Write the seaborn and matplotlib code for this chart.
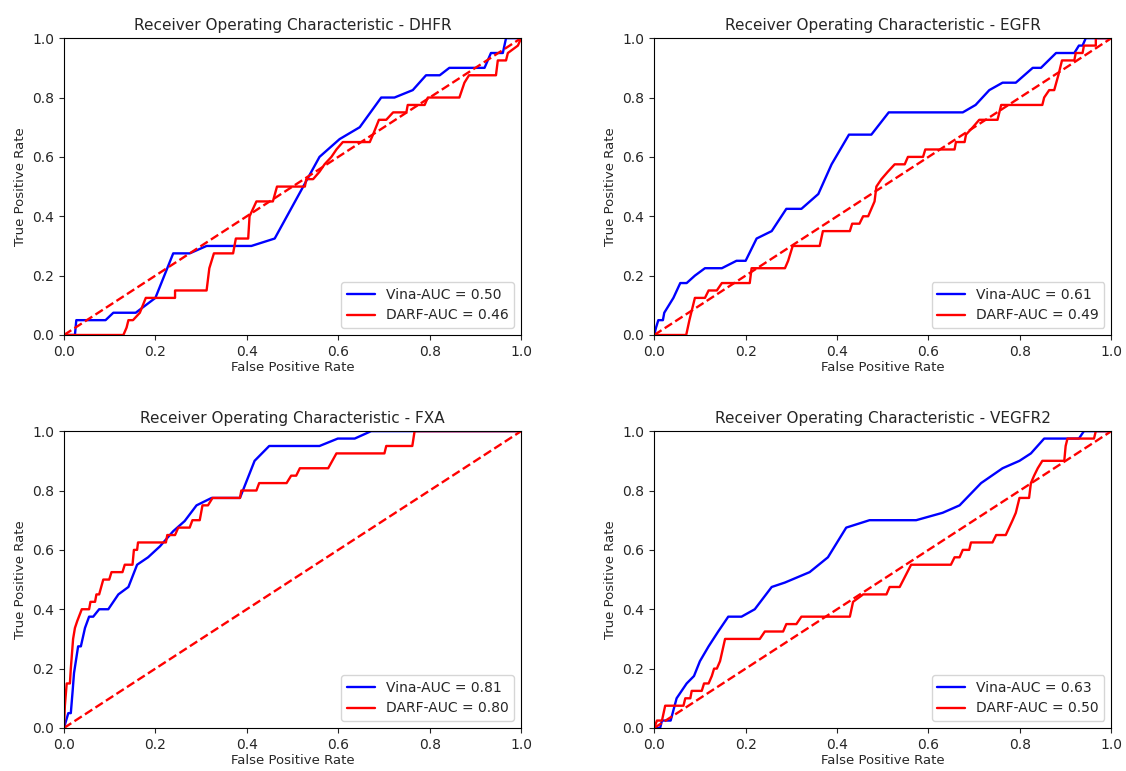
import numpy as np
import pandas as pd
import matplotlib
matplotlib.use('Agg')
import matplotlib.pyplot as plt
import seaborn as sns

sns.set_style('ticks')
plt.rcParams['font.family'] = ['DejaVu Sans']

# ---- data: (fpr, tpr) vertices ----
targets = ['DHFR', 'EGFR', 'FXA', 'VEGFR2']
vina_auc = [0.50, 0.61, 0.81, 0.63]
darf_auc = [0.46, 0.49, 0.80, 0.50]

dhfr_vina_fpr = [0, 0.024, 0.027, 0.091, 0.108, 0.157, 0.200, 0.239, 0.275, 0.312, 0.410, 0.461, 0.559,
                 0.603, 0.647, 0.694, 0.723, 0.763, 0.792, 0.822, 0.843, 0.920, 0.934, 0.960, 0.967, 1.0]
dhfr_vina_tpr = [0, 0, 0.05, 0.05, 0.075, 0.075, 0.125, 0.275, 0.275, 0.30, 0.30, 0.325, 0.60,
                 0.66, 0.70, 0.80, 0.80, 0.825, 0.875, 0.875, 0.90, 0.90, 0.95, 0.95, 1.0, 1.0]
dhfr_darf_fpr = [0, 0.13, 0.137, 0.141, 0.151, 0.166, 0.179, 0.243, 0.243, 0.312, 0.318, 0.328, 0.37,
                 0.376, 0.403, 0.406, 0.421, 0.457, 0.466, 0.527, 0.530, 0.545, 0.559, 0.570, 0.585,
                 0.596, 0.610, 0.669, 0.676, 0.689, 0.705, 0.72, 0.749, 0.752, 0.789, 0.796, 0.865,
                 0.876, 0.886, 0.945, 0.949, 0.967, 0.971, 0.993, 1.0]
dhfr_darf_tpr = [0, 0, 0.025, 0.05, 0.05, 0.075, 0.125, 0.125, 0.15, 0.15, 0.225, 0.275, 0.275,
                 0.325, 0.325, 0.40, 0.45, 0.45, 0.50, 0.50, 0.525, 0.525, 0.55, 0.575, 0.60,
                 0.625, 0.65, 0.65, 0.675, 0.725, 0.725, 0.75, 0.75, 0.775, 0.775, 0.80, 0.80,
                 0.85, 0.875, 0.875, 0.925, 0.925, 0.95, 0.975, 1.0]

egfr_vina_fpr = [0, 0.004, 0.009, 0.019, 0.022, 0.042, 0.057, 0.071, 0.089, 0.111, 0.148, 0.18, 0.2,
                 0.224, 0.257, 0.289, 0.322, 0.359, 0.388, 0.426, 0.475, 0.513, 0.675, 0.703, 0.733,
                 0.762, 0.791, 0.828, 0.846, 0.879, 0.919, 0.929, 0.937, 0.944, 1.0]
egfr_vina_tpr = [0, 0.025, 0.05, 0.05, 0.075, 0.125, 0.175, 0.175, 0.2, 0.225, 0.225, 0.25, 0.25,
                 0.325, 0.35, 0.425, 0.425, 0.475, 0.575, 0.675, 0.675, 0.75, 0.75, 0.775, 0.825,
                 0.85, 0.85, 0.90, 0.90, 0.95, 0.95, 0.975, 0.975, 1.0, 1.0]
egfr_darf_fpr = [0, 0.07, 0.077, 0.089, 0.111, 0.119, 0.137, 0.148, 0.209, 0.213, 0.286, 0.293, 0.303,
                 0.362, 0.369, 0.428, 0.433, 0.449, 0.457, 0.468, 0.482, 0.486, 0.497, 0.511, 0.526,
                 0.548, 0.555, 0.588, 0.593, 0.657, 0.66, 0.679, 0.682, 0.697, 0.711, 0.751, 0.759,
                 0.849, 0.853, 0.864, 0.875, 0.884, 0.892, 0.919, 0.922, 0.937, 0.94, 0.966, 0.966, 1.0]
egfr_darf_tpr = [0, 0, 0.05, 0.125, 0.125, 0.15, 0.15, 0.175, 0.175, 0.225, 0.225, 0.25, 0.30,
                 0.30, 0.35, 0.35, 0.375, 0.375, 0.40, 0.40, 0.45, 0.50, 0.525, 0.55, 0.575,
                 0.575, 0.60, 0.60, 0.625, 0.625, 0.65, 0.65, 0.675, 0.70, 0.725, 0.725, 0.775,
                 0.775, 0.80, 0.825, 0.825, 0.875, 0.925, 0.925, 0.95, 0.95, 0.975, 0.975, 1.0, 1.0]

fxa_vina_fpr = [0, 0.0095, 0.015, 0.019, 0.022, 0.031, 0.037, 0.046, 0.055, 0.064, 0.077, 0.097, 0.119,
                0.141, 0.160, 0.184, 0.21, 0.239, 0.264, 0.29, 0.323, 0.385, 0.417, 0.449, 0.559,
                0.599, 0.636, 0.672, 1.0]
fxa_vina_tpr = [0, 0.05, 0.05, 0.125, 0.185, 0.275, 0.275, 0.337, 0.375, 0.375, 0.40, 0.40, 0.45,
                0.475, 0.55, 0.575, 0.612, 0.663, 0.697, 0.75, 0.775, 0.775, 0.90, 0.95, 0.95,
                0.975, 0.975, 1.0, 1.0]
fxa_darf_fpr = [0, 0.002, 0.006, 0.013, 0.015, 0.02, 0.024, 0.029, 0.039, 0.055, 0.058, 0.068, 0.071,
                0.077, 0.086, 0.099, 0.104, 0.128, 0.133, 0.150, 0.153, 0.160, 0.162, 0.223, 0.226,
                0.243, 0.25, 0.275, 0.281, 0.297, 0.303, 0.315, 0.325, 0.385, 0.388, 0.421, 0.427,
                0.487, 0.497, 0.508, 0.516, 0.578, 0.596, 0.701, 0.705, 0.762, 0.767, 1.0]
fxa_darf_tpr = [0, 0.075, 0.15, 0.15, 0.20, 0.30, 0.337, 0.36, 0.40, 0.40, 0.425, 0.425, 0.45,
                0.45, 0.50, 0.50, 0.525, 0.525, 0.55, 0.55, 0.60, 0.60, 0.625, 0.625, 0.65,
                0.65, 0.675, 0.675, 0.70, 0.70, 0.75, 0.75, 0.775, 0.775, 0.80, 0.80, 0.825,
                0.825, 0.85, 0.85, 0.875, 0.875, 0.925, 0.925, 0.95, 0.95, 1.0, 1.0]

vegfr2_vina_fpr = [0, 0.013, 0.017, 0.036, 0.049, 0.060, 0.071, 0.087, 0.100, 0.119, 0.140, 0.162, 0.191,
                   0.220, 0.257, 0.286, 0.340, 0.380, 0.420, 0.471, 0.573, 0.631, 0.668, 0.715, 0.762,
                   0.799, 0.824, 0.853, 0.929, 0.94, 1.0]
vegfr2_vina_tpr = [0, 0, 0.025, 0.025, 0.10, 0.125, 0.15, 0.175, 0.225, 0.275, 0.325, 0.375, 0.375,
                   0.40, 0.475, 0.49, 0.525, 0.575, 0.675, 0.70, 0.70, 0.725, 0.75, 0.825, 0.875,
                   0.90, 0.925, 0.975, 0.975, 1.0, 1.0]
vegfr2_darf_fpr = [0, 0.006, 0.017, 0.024, 0.064, 0.068, 0.079, 0.082, 0.104, 0.109, 0.119, 0.126, 0.131,
                   0.137, 0.144, 0.155, 0.231, 0.242, 0.282, 0.289, 0.311, 0.322, 0.428, 0.435, 0.457,
                   0.508, 0.515, 0.537, 0.562, 0.649, 0.657, 0.668, 0.675, 0.689, 0.693, 0.74, 0.748,
                   0.769, 0.784, 0.791, 0.799, 0.82, 0.824, 0.831, 0.839, 0.849, 0.897, 0.90, 0.904,
                   0.962, 0.966, 1.0]
vegfr2_darf_tpr = [0, 0.025, 0.025, 0.075, 0.075, 0.10, 0.10, 0.125, 0.125, 0.15, 0.15, 0.175, 0.20,
                   0.20, 0.225, 0.30, 0.30, 0.325, 0.325, 0.35, 0.35, 0.375, 0.375, 0.425, 0.45,
                   0.45, 0.475, 0.475, 0.55, 0.55, 0.575, 0.575, 0.60, 0.60, 0.625, 0.625, 0.65,
                   0.65, 0.70, 0.725, 0.775, 0.775, 0.825, 0.85, 0.875, 0.90, 0.90, 0.95, 0.975,
                   0.975, 1.0, 1.0]

curves = {
    'DHFR': (dhfr_vina_fpr, dhfr_vina_tpr, dhfr_darf_fpr, dhfr_darf_tpr),
    'EGFR': (egfr_vina_fpr, egfr_vina_tpr, egfr_darf_fpr, egfr_darf_tpr),
    'FXA': (fxa_vina_fpr, fxa_vina_tpr, fxa_darf_fpr, fxa_darf_tpr),
    'VEGFR2': (vegfr2_vina_fpr, vegfr2_vina_tpr, vegfr2_darf_fpr, vegfr2_darf_tpr),
}

# ---- figure ----
fig = plt.figure(figsize=(11.26, 7.71), dpi=100)
lefts = [0.0568, 0.581, 0.0568, 0.581]
bottoms = [0.5655, 0.5655, 0.0558, 0.0558]
w, h = 0.406, 0.385

for i, name in enumerate(targets):
    ax = fig.add_axes([lefts[i], bottoms[i], w, h])
    vf, vt, df_, dt = curves[name]
    vina = pd.DataFrame({'fpr': vf, 'tpr': vt})
    darf = pd.DataFrame({'fpr': df_, 'tpr': dt})
    sns.lineplot(data=vina, x='fpr', y='tpr', sort=False, estimator=None, color='b', lw=1.7,
                 label=f'Vina-AUC = {vina_auc[i]:.2f}', ax=ax)
    sns.lineplot(data=darf, x='fpr', y='tpr', sort=False, estimator=None, color='r', lw=1.7,
                 label=f'DARF-AUC = {darf_auc[i]:.2f}', ax=ax)
    ax.plot([0, 1], [0, 1], 'r--', lw=1.7)
    ax.set_xlim(0, 1)
    ax.set_ylim(0, 1)
    ax.set_title(f'Receiver Operating Characteristic - {name}', fontsize=11)
    ax.set_xlabel('False Positive Rate', fontsize=9.5, labelpad=2)
    ax.set_ylabel('True Positive Rate', fontsize=9.5, labelpad=4)
    ax.tick_params(labelsize=10, length=3.5, width=0.8)
    for s in ax.spines.values():
        s.set_linewidth(0.8)
        s.set_color('black')
    ax.legend(loc='lower right', fontsize=10, frameon=True, fancybox=True)

fig.savefig('out.png', dpi=100)
